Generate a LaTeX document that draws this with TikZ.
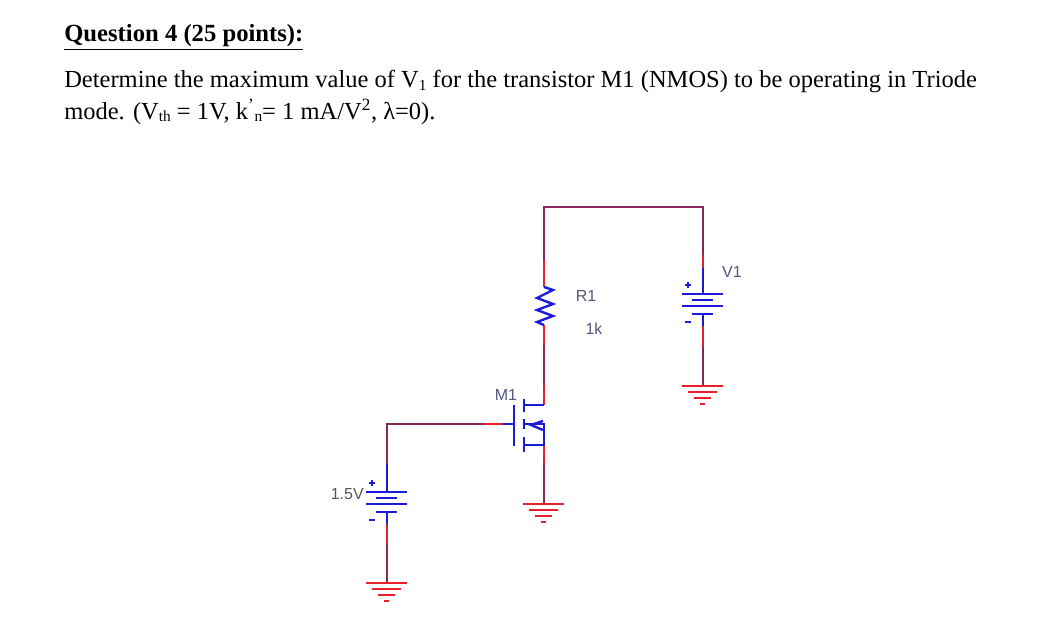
\documentclass[tikz,border=0pt]{standalone}
\usepackage{fontspec}
\setmainfont{Liberation Serif}
\newfontfamily\labelfont{Liberation Sans}
\usetikzlibrary{calc}
\definecolor{wirecol}{HTML}{862A5C}
\definecolor{pincol}{HTML}{E8202A}
\definecolor{partcol}{HTML}{1C1CD8}
\definecolor{labelcol}{HTML}{56567E}
\newcommand{\lowtext}[1]{\raisebox{-0.12em}{\fontsize{11.5}{12}\selectfont #1}}
\tikzset{
  wire/.style={draw=wirecol,line width=1.8pt},
  pin/.style={draw=pincol,line width=1.8pt},
  part/.style={draw=partcol,line width=1.8pt},
  textline/.style={anchor=base west,inner sep=0pt,font=\fontsize{18.38}{22}\selectfont},
  partlabel/.style={inner sep=0pt,text=labelcol,font=\labelfont\fontsize{12}{14}\selectfont}
}
\begin{document}
\begin{tikzpicture}[x=0.75pt,y=-0.75pt]
\useasboundingbox (0,0) rectangle (1049,635);

% question text
\node [textline,font=\fontsize{18.5}{22}\selectfont\bfseries] (title) at (64,42) {\underline{Question 4 (25 points):}};
\node [textline] (lineone) at (64,88) {Determine the maximum value of V\lowtext{1} for the transistor M1 (NMOS) to be operating in Triode};
\node [textline] (linetwo) at (64,119) {mode. (V\lowtext{th} = 1V, k\textsuperscript{'}\lowtext{n}= 1 mA/V\textsuperscript{2}, λ=0).};

% points on the wires
\coordinate (topl) at (544,207);
\coordinate (topr) at (703,207);
\coordinate (gatel) at (387,424);
\coordinate (gatep) at (514,424);
\coordinate (drain) at (544,405);
\coordinate (source) at (544,445);
\coordinate (body) at (544,424);
\coordinate (rtop) at (544,287);
\coordinate (rbot) at (544,325);
\coordinate (batl) at (387,492);
\coordinate (batr) at (703,294);
\coordinate (gndl) at (387,583);
\coordinate (gndm) at (544,504);
\coordinate (gndr) at (703,386);

% wires
\draw [wire] (rtop |- 0,260) -- (topl) -- (topr) -- (topr |- 0,255);
\draw [pin] (rtop |- 0,260) -- (rtop);
\draw [pin] (rbot) -- (rbot |- 0,345);
\draw [wire] (rbot |- 0,345) -- (drain |- 0,385);
\draw [pin] (drain |- 0,385) -- (drain);
\draw [part] (drain) -- ($ (drain) + (-20,0)$);
\draw [pin] (source) -- (source |- 0,463);
\draw [wire] (source |- 0,463) -- (gndm);
\draw [wire] (gatel |- 0,464) -- (gatel) -- (483,424);
\draw [pin] (483,424) -- (503,424);
\draw [part] (503,424) -- (gatep);

% resistor
\draw [part] (rtop) -- ++(9,3) -- ++(-16,8) -- ++(16,6) -- ++(-16,6) -- ++(16,6) -- ++(-16,6) -- (rbot);
\node [partlabel] (rname) at (586,296) {R1};
\node [partlabel] (rvalue) at (594,329) {1k};

% transistor
\draw [part] ($ (gatep) + (0,-19)$) -- ($ (gatep) + (0,22)$);
\draw [part] (524,399) -- (524,412);
\draw [part] (524,419) -- (524,429);
\draw [part] (524,437) -- (524,452);
\draw [part] (524,424) -- (body) -- (source) -- (524,445);
\draw [part] (543,421) -- (531,425) -- (543,430);
\node [partlabel] (mname) at (506,395) {M1};

% sources, plates from the top one
\foreach \bat in {batl,batr} {
  \draw [part] ($ (\bat) + (-21,0)$) -- ($ (\bat) + (20,0)$);
  \draw [part] ($ (\bat) + (-11,6)$) -- ($ (\bat) + (10,6)$);
  \draw [part] ($ (\bat) + (-21,12)$) -- ($ (\bat) + (20,12)$);
  \draw [part] ($ (\bat) + (-11,20)$) -- ($ (\bat) + (10,20)$);
  \draw [part] ($ (\bat) + (0,-28)$) -- (\bat);
  \draw [part] ($ (\bat) + (0,20)$) -- ($ (\bat) + (0,32)$);
  \draw [pin] ($ (\bat) + (0,32)$) -- ($ (\bat) + (0,52)$);
  \draw [part,line width=1.4pt] ($ (\bat) + (-18,-9)$) -- ($ (\bat) + (-12,-9)$);
  \draw [part,line width=1.4pt] ($ (\bat) + (-15,-12)$) -- ($ (\bat) + (-15,-6)$);
  \draw [part,line width=1.4pt] ($ (\bat) + (-18,28)$) -- ($ (\bat) + (-12,28)$);
}
\draw [pin] (topr |- 0,255) -- (topr |- 0,268);
\draw [wire] ($ (batl) + (0,52)$) -- (gndl);
\draw [wire] ($ (batr) + (0,52)$) -- (gndr);
\node [partlabel,anchor=east,text=black!65] (vleft) at (364,494) {1.5V};
\node [partlabel] (vright) at (732,272) {V1};

% grounds
\foreach \gnd in {gndl,gndm,gndr} {
  \draw [pin] ($ (\gnd) + (-21,0)$) -- ($ (\gnd) + (20,0)$);
  \draw [pin] ($ (\gnd) + (-15,6)$) -- ($ (\gnd) + (14,6)$);
  \draw [pin] ($ (\gnd) + (-9,12)$) -- ($ (\gnd) + (8,12)$);
  \draw [pin] ($ (\gnd) + (-3,18)$) -- ($ (\gnd) + (2,18)$);
}

\end{tikzpicture}
\end{document}
